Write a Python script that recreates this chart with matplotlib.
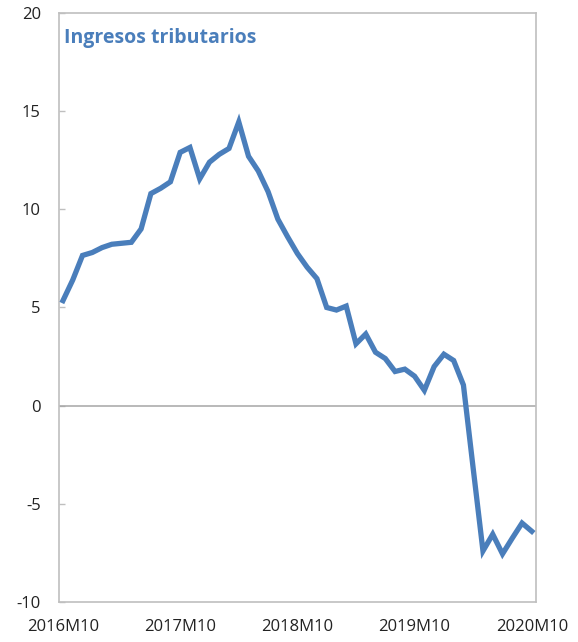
import numpy as np
import matplotlib.pyplot as plt

# monthly series, 2016M10 .. 2020M10
values = [5.35, 6.4, 7.65, 7.8, 8.05, 8.22, 8.27, 8.32, 9.0, 10.8,
          11.07, 11.4, 12.9, 13.15, 11.55, 12.4, 12.8, 13.1, 14.45, 12.7,
          11.95, 10.9, 9.5, 8.6, 7.75, 7.05, 6.47, 5.0, 4.87, 5.07,
          3.15, 3.65, 2.72, 2.4, 1.74, 1.86, 1.5, 0.78, 1.99, 2.62,
          2.3, 1.05, -3.2, -7.4, -6.55, -7.55, -6.75, -5.98, -6.4]
tick_pos = [0, 12, 24, 36, 48]
tick_labels = ["2016M10", "2017M10", "2018M10", "2019M10", "2020M10"]
y_ticks = [-10, -5, 0, 5, 10, 15, 20]

blue = "#4a7ebb"
grey = "#bfbfbf"

plt.rcParams['font.family'] = ['Open Sans', 'DejaVu Sans']
plt.rcParams['axes.unicode_minus'] = False

fig = plt.figure(figsize=(5.78, 6.42), dpi=100)
ax = fig.add_axes([0.102, 0.0623, 0.825, 0.9175])

x = np.arange(len(values))
ax.plot(x, values, color=blue, lw=3.8, solid_joinstyle="miter", zorder=3)
ax.axhline(0, color="#a6a6a6", lw=1.1, zorder=2)

ax.set_xlim(-0.41, 48.41)
ax.set_ylim(-10, 20)
ax.set_yticks(y_ticks)
ax.set_xticks(tick_pos)
ax.set_xticklabels(tick_labels)

for s in ax.spines.values():
    s.set_color(grey)
    s.set_linewidth(1.2)

ax.tick_params(axis="y", direction="in", length=4.5, width=1, color=grey,
               pad=13, labelsize=12, labelcolor="#222222")
ax.tick_params(axis="x", length=0, pad=12, labelsize=12, labelcolor="#222222")

ax.text(0.0105, 0.949, "Ingresos tributarios", transform=ax.transAxes,
        color=blue, fontsize=14, fontweight="bold", va="baseline", ha="left")

fig.savefig("out.png", dpi=100)
